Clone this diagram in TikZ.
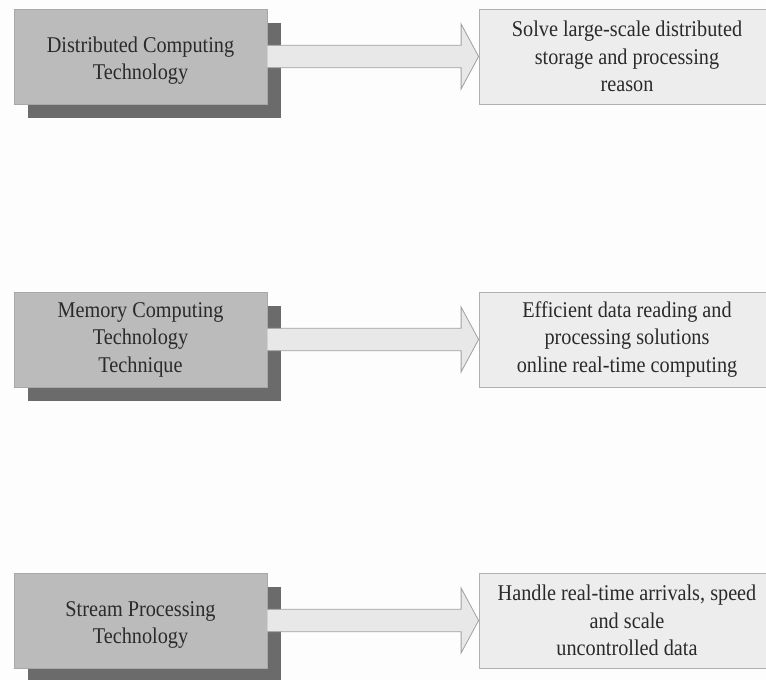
\documentclass[tikz,border=0pt]{standalone}
\usepackage{fontspec}
\setmainfont{Liberation Serif}[FakeStretch=0.9]
\usetikzlibrary{shadows,calc}
\definecolor{bg}{HTML}{FDFDFD}
\definecolor{leftfill}{HTML}{BBBBBB}
\definecolor{leftdraw}{HTML}{A8A8A8}
\definecolor{shadowgray}{HTML}{6B6B6B}
\definecolor{rightfill}{HTML}{EDEDED}
\definecolor{rightdraw}{HTML}{B0B0B0}
\definecolor{arrowfill}{HTML}{E8E8E8}
\definecolor{arrowdraw}{HTML}{A0A0A0}
\definecolor{txt}{HTML}{2A2A2A}
\tikzset{
  techbox/.style={rectangle, draw=leftdraw, fill=leftfill, line width=0.8pt,
    minimum width=253pt, minimum height=95pt, inner sep=0pt, align=center,
    text=txt, font=\fontsize{22.5}{27.5}\selectfont,
    drop shadow={shadow xshift=13.5pt, shadow yshift=-13.5pt, fill=shadowgray, opacity=1}},
  goalbox/.style={rectangle, draw=rightdraw, fill=rightfill, line width=0.8pt,
    minimum width=296pt, minimum height=95pt, inner sep=0pt, align=center,
    text=txt, font=\fontsize{22.5}{27.5}\selectfont},
  bigarrow/.style={draw=arrowdraw, fill=arrowfill, line width=0.8pt, line join=miter}
}
\newcommand{\bigarr}[2]{%
  \filldraw[bigarrow] ($(#1.east)+(0,-11.2)$) -- ($(#2.west)+(-17.5,-11.2)$)
    -- ($(#2.west)+(-17.5,-32.5)$) -- (#2.west) -- ($(#2.west)+(-17.5,32.5)$)
    -- ($(#2.west)+(-17.5,11.2)$) -- ($(#1.east)+(0,11.2)$);}
\newcommand{\lowertext}[1]{\raisebox{-4pt}[\height][\depth]{\begin{tabular}{@{}c@{}}#1\end{tabular}}}
\begin{document}
\begin{tikzpicture}[x=1pt,y=-1pt]
\fill[bg] (0,0) rectangle (766,680);
\useasboundingbox (0,0) rectangle (766,680);
\node[techbox] (l1) at (140.5,56.5) {\lowertext{Distributed Computing\\Technology}};
\node[goalbox] (r1) at (627,56.5) {Solve large-scale distributed\\storage and processing\\reason};
\node[techbox] (l2) at (140.5,339.5) {Memory Computing\\Technology\\Technique};
\node[goalbox] (r2) at (627,339.5) {Efficient data reading and\\processing solutions\\online real-time computing};
\node[techbox] (l3) at (140.5,620.5) {\lowertext{Stream Processing\\Technology}};
\node[goalbox] (r3) at (627,620.5) {Handle real-time arrivals, speed\\and scale\\uncontrolled data};
\bigarr{l1}{r1}
\bigarr{l2}{r2}
\bigarr{l3}{r3}
\end{tikzpicture}
\end{document}
